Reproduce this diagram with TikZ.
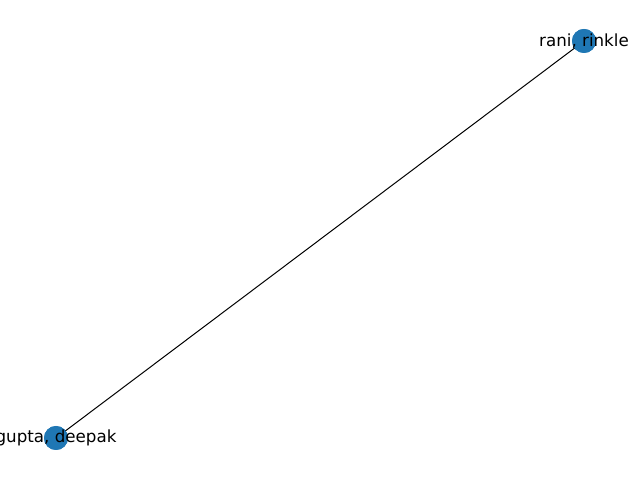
\documentclass[tikz,border=0pt]{standalone}
\usepackage{fontspec}
\setmainfont{DejaVu Sans}
\begin{document}
\begin{tikzpicture}[x=1bp,y=1bp,
  vertex/.style={circle,fill={rgb,255:red,31;green,119;blue,180},minimum size=24bp,inner sep=0pt},
  lbl/.style={font=\fontsize{16.7bp}{20bp}\selectfont,inner sep=0pt},
  edge/.style={draw=black,line width=1bp}]
\useasboundingbox (0,0) rectangle (640,480);
\node[vertex] (r) at (584,439) {};
\node[vertex] (g) at (56,42) {};
\draw[edge] (r.center) -- (g.center);
\node[vertex] at (r) {};
\node[vertex] at (g) {};
\node[lbl] (rl) at (r) {rani, rinkle};
\node[lbl] (gl) at (g) {gupta, deepak};
\end{tikzpicture}
\end{document}
